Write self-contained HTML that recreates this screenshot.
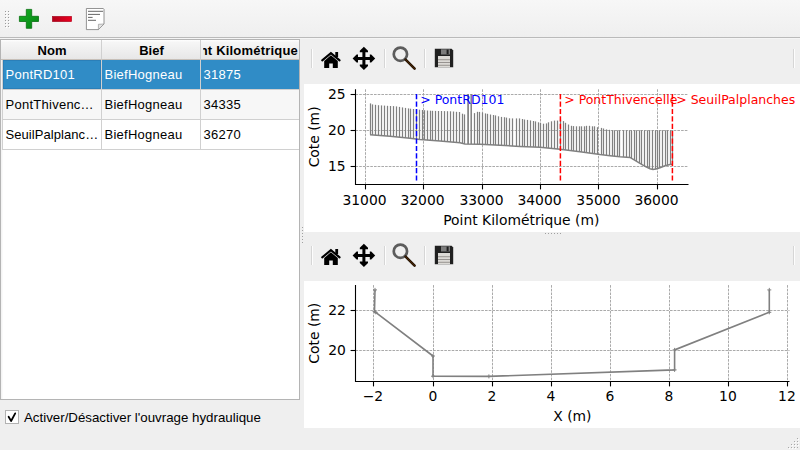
<!DOCTYPE html>
<html><head><meta charset="utf-8"><style>
*{margin:0;padding:0;box-sizing:border-box}
html,body{width:800px;height:450px;overflow:hidden;background:#efefef;font-family:"Liberation Sans",sans-serif;font-size:13px;color:#000}
.abs{position:absolute}
#tb{left:0;top:0;width:800px;height:37px;background:linear-gradient(#f7f7f7,#efefef)}
#tbline{left:0;top:37px;width:800px;height:1px;background:#bababa}
#tbline2{left:0;top:38px;width:800px;height:1px;background:#f5f5f5}
#table{left:0;top:39px;width:300px;height:361px;background:#fff;border:1px solid #b4b4b4}
.hdr{position:absolute;top:40px;height:20px;background:linear-gradient(#fefefe 0,#f6f6f6 12%,#e7e7e7 100%);border-bottom:1px solid #c6bfb8;border-right:1px solid #d0d0d0;font-weight:bold;line-height:20px;padding-top:1px;text-align:center;overflow:hidden;white-space:nowrap}
.cell{position:absolute;height:30px;border-right:1px solid #d0d0d0;border-bottom:1px solid #d0d0d0;line-height:29px;padding-left:2.5px;letter-spacing:0.25px;white-space:nowrap;overflow:hidden}
.alt{background:#f7f7f7}
.sel{background:#308cc6;color:#fff}
.canvas{position:absolute;background:#fff}
svg text{font-family:"DejaVu Sans",sans-serif}
</style></head><body>
<div class="abs" id="tb"></div>
<div class="abs" id="tbline"></div>
<div class="abs" id="tbline2"></div>
<svg class="abs" style="left:0;top:0" width="120" height="37" viewBox="0 0 120 37">
 <defs>
  <linearGradient id="gg" x1="0" y1="0" x2="1" y2="1"><stop offset="0" stop-color="#16b024"/><stop offset="1" stop-color="#058313"/></linearGradient>
  <linearGradient id="rg" x1="0" y1="0" x2="1" y2="0"><stop offset="0" stop-color="#b20019"/><stop offset="1" stop-color="#ec0020"/></linearGradient>
 </defs>
 <g fill="#9a9a9a"><rect x="5" y="11" width="1" height="1"/><rect x="5" y="14" width="1" height="1"/><rect x="5" y="17" width="1" height="1"/><rect x="5" y="20" width="1" height="1"/><rect x="5" y="23" width="1" height="1"/><rect x="5" y="26" width="1" height="1"/><rect x="8" y="11" width="1" height="1"/><rect x="8" y="14" width="1" height="1"/><rect x="8" y="17" width="1" height="1"/><rect x="8" y="20" width="1" height="1"/><rect x="8" y="23" width="1" height="1"/><rect x="8" y="26" width="1" height="1"/></g>
 <g fill="#ffffff"><rect x="6" y="12" width="1" height="1"/><rect x="6" y="15" width="1" height="1"/><rect x="6" y="18" width="1" height="1"/><rect x="6" y="21" width="1" height="1"/><rect x="6" y="24" width="1" height="1"/><rect x="6" y="27" width="1" height="1"/><rect x="9" y="12" width="1" height="1"/><rect x="9" y="15" width="1" height="1"/><rect x="9" y="18" width="1" height="1"/><rect x="9" y="21" width="1" height="1"/><rect x="9" y="24" width="1" height="1"/><rect x="9" y="27" width="1" height="1"/></g>
 <path d="M26.3,9.4 H31.7 V16.3 H38.5 V21.5 H31.7 V28.3 H26.3 V21.5 H19.4 V16.3 H26.3 Z" fill="url(#gg)" stroke="#06700f" stroke-width="0.8"/>
 <rect x="52.3" y="16.3" width="19.4" height="5.4" fill="url(#rg)" stroke="#9a0016" stroke-width="0.5"/>
 <path d="M86.4,8.5 H103.3 L104,9.3 V24 L98.4,29.6 H86.4 Z" fill="#fff" stroke="#7a7a7a" stroke-width="0.8"/>
 <path d="M104,24 L98.4,29.6 V24.3 Z" fill="#e4e4e4" stroke="#8a8a8a" stroke-width="0.6"/>
 <g stroke="#555" stroke-width="0.9">
  <line x1="88" y1="11.3" x2="103" y2="11.3"/><line x1="88" y1="14.4" x2="100" y2="14.4"/>
  <line x1="88" y1="17.4" x2="92.6" y2="17.4"/><line x1="88" y1="20.3" x2="96" y2="20.3"/>
 </g>
</svg>

<div class="abs" id="table"></div>
<div class="abs" style="left:1px;top:60px;width:1px;height:339px;background:#f4f4f4"></div>
<div class="abs" style="left:2px;top:60px;width:1px;height:90px;background:#d0d0d0"></div>
<div class="abs" style="left:2px;top:150px;width:1px;height:249px;background:#fafafa"></div>
<div class="hdr" style="left:1px;width:101px;padding-left:2px">Nom</div>
<div class="hdr" style="left:102px;width:99px;padding-left:1px">Bief</div>
<div class="hdr" style="left:201px;width:98px;border-right:none"><div style="position:absolute;left:2px;right:0;top:0;height:20px;overflow:hidden"><span style="position:absolute;right:1px;top:1px;letter-spacing:0.2px">Point Kilométrique</span></div></div>
<div class="cell sel" style="left:3px;top:60px;width:99px;padding-left:2.6px;box-shadow:inset 0 0 0 1px #2b7fb8">PontRD101</div>
<div class="cell sel" style="left:102px;top:60px;width:99px">BiefHogneau</div>
<div class="cell sel" style="left:201px;top:60px;width:98px;border-right:none">31875</div>
<div class="cell alt" style="left:3px;top:90px;width:99px;padding-left:2.6px">PontThivenc…</div>
<div class="cell alt" style="left:102px;top:90px;width:99px">BiefHogneau</div>
<div class="cell alt" style="left:201px;top:90px;width:98px;border-right:none">34335</div>
<div class="cell" style="left:3px;top:120px;width:99px;padding-left:2.4px;letter-spacing:0.08px">SeuilPalplanc…</div>
<div class="cell" style="left:102px;top:120px;width:99px">BiefHogneau</div>
<div class="cell" style="left:201px;top:120px;width:98px;border-right:none">36270</div>

<div class="abs" style="left:5px;top:410px;width:14px;height:14px;border:1px solid #b2b2b2;background:#fff"></div>
<svg class="abs" style="left:0;top:400px" width="24" height="30" viewBox="0 400 24 30">
 <path d="M8.6,416.8 L11.1,421 L15.2,413.4" fill="none" stroke="#000" stroke-width="1.8" stroke-linecap="round" stroke-linejoin="round"/>
</svg>
<div class="abs" style="left:24px;top:408.6px;font-size:13.3px;line-height:17px;white-space:nowrap">Activer/Désactiver l'ouvrage hydraulique</div>

<!-- splitter dots -->
<svg class="abs" style="left:0;top:0;pointer-events:none" width="800" height="450" viewBox="0 0 800 450">
 <g fill="#a0a0a0"><rect x="302" y="227" width="1" height="1"/><rect x="302" y="230" width="1" height="1"/><rect x="302" y="233" width="1" height="1"/><rect x="302" y="236" width="1" height="1"/><rect x="302" y="239" width="1" height="1"/><rect x="302" y="242" width="1" height="1"/></g>
 <g fill="#a0a0a0"><rect x="545" y="233" width="1" height="1"/><rect x="548" y="233" width="1" height="1"/><rect x="551" y="233" width="1" height="1"/><rect x="554" y="233" width="1" height="1"/><rect x="557" y="233" width="1" height="1"/><rect x="560" y="233" width="1" height="1"/></g>
 <g fill="#a8a8a8"><rect x="797" y="438" width="1" height="1"/><rect x="794" y="441" width="1" height="1"/><rect x="797" y="441" width="1" height="1"/><rect x="791" y="444" width="1" height="1"/><rect x="794" y="444" width="1" height="1"/><rect x="797" y="444" width="1" height="1"/><rect x="788" y="447" width="1" height="1"/><rect x="791" y="447" width="1" height="1"/><rect x="794" y="447" width="1" height="1"/><rect x="797" y="447" width="1" height="1"/></g>
 <g fill="#fff"><rect x="798" y="439" width="1" height="1"/><rect x="795" y="442" width="1" height="1"/><rect x="798" y="442" width="1" height="1"/><rect x="792" y="445" width="1" height="1"/><rect x="795" y="445" width="1" height="1"/><rect x="798" y="445" width="1" height="1"/><rect x="789" y="448" width="1" height="1"/><rect x="792" y="448" width="1" height="1"/><rect x="795" y="448" width="1" height="1"/></g>
 
<g transform="translate(0,0)">
 <rect x="311" y="49" width="1" height="19" fill="#d6d6d6"/><rect x="312" y="49" width="1" height="19" fill="#fdfdfd"/>
 <rect x="384" y="49" width="1" height="19" fill="#d6d6d6"/><rect x="385" y="49" width="1" height="19" fill="#fdfdfd"/>
 <rect x="424" y="49" width="1" height="19" fill="#d6d6d6"/><rect x="425" y="49" width="1" height="19" fill="#fdfdfd"/>
 <rect x="793" y="49" width="1" height="19" fill="#d6d6d6"/><rect x="794" y="49" width="1" height="19" fill="#fdfdfd"/>
 <!-- home -->
 <path d="M322.2,60.4 L330.9,53.1 L339.6,60.4" fill="none" stroke="#000" stroke-width="2.1" stroke-linecap="round" stroke-linejoin="miter"/>
 <rect x="335.3" y="52" width="2.8" height="5" fill="#000"/>
 <path d="M324.2,68 V61 L330.9,55.3 L337.8,61 V68 H332.8 V63.4 H329.2 V68 Z" fill="#000"/>
 <!-- move -->
 <g fill="#000">
  <rect x="362.4" y="50" width="3" height="17"/>
  <rect x="355" y="57" width="18" height="3"/>
  <path d="M363.9,46.8 L368,50.8 V52.2 H359.8 V50.8 Z"/>
  <path d="M363.9,70 L368,66 V64.6 H359.8 V66 Z"/>
  <path d="M352.6,58.5 L356.6,54.4 H358 V62.6 H356.6 Z"/>
  <path d="M375.2,58.5 L371.2,54.4 H369.8 V62.6 H371.2 Z"/>
 </g>
 <!-- zoom -->
 <circle cx="400.4" cy="54.2" r="6.65" fill="none" stroke="#5c5c5c" stroke-width="2.7"/>
 <path d="M405.6,59.7 L414.6,68.7" stroke="#1a0d00" stroke-width="2.6" stroke-linecap="round"/>
 <path d="M405.6,59.7 L414.6,68.7" stroke="#4a2605" stroke-width="1.2" stroke-linecap="round"/>
 <!-- save -->
 <path d="M434.8,48.8 H451.6 L453.2,50.4 V67.2 H434.8 Z" fill="#202020"/>
 <rect x="441" y="49.3" width="9" height="5.2" fill="#7c7c7c"/>
 <rect x="446.6" y="49.6" width="2" height="4.6" fill="#1e1e1e"/>
 <rect x="438" y="56" width="12" height="11.2" fill="#dcdad6"/>
 <rect x="438" y="59.3" width="12" height="0.9" fill="#8f8c88"/>
 <rect x="438" y="62.1" width="12" height="0.9" fill="#8f8c88"/>
 <rect x="438" y="64.8" width="12" height="0.9" fill="#8f8c88"/>
</g>
 
<g transform="translate(0,197)">
 <rect x="311" y="49" width="1" height="19" fill="#d6d6d6"/><rect x="312" y="49" width="1" height="19" fill="#fdfdfd"/>
 <rect x="384" y="49" width="1" height="19" fill="#d6d6d6"/><rect x="385" y="49" width="1" height="19" fill="#fdfdfd"/>
 <rect x="424" y="49" width="1" height="19" fill="#d6d6d6"/><rect x="425" y="49" width="1" height="19" fill="#fdfdfd"/>
 <rect x="793" y="49" width="1" height="19" fill="#d6d6d6"/><rect x="794" y="49" width="1" height="19" fill="#fdfdfd"/>
 <!-- home -->
 <path d="M322.2,60.4 L330.9,53.1 L339.6,60.4" fill="none" stroke="#000" stroke-width="2.1" stroke-linecap="round" stroke-linejoin="miter"/>
 <rect x="335.3" y="52" width="2.8" height="5" fill="#000"/>
 <path d="M324.2,68 V61 L330.9,55.3 L337.8,61 V68 H332.8 V63.4 H329.2 V68 Z" fill="#000"/>
 <!-- move -->
 <g fill="#000">
  <rect x="362.4" y="50" width="3" height="17"/>
  <rect x="355" y="57" width="18" height="3"/>
  <path d="M363.9,46.8 L368,50.8 V52.2 H359.8 V50.8 Z"/>
  <path d="M363.9,70 L368,66 V64.6 H359.8 V66 Z"/>
  <path d="M352.6,58.5 L356.6,54.4 H358 V62.6 H356.6 Z"/>
  <path d="M375.2,58.5 L371.2,54.4 H369.8 V62.6 H371.2 Z"/>
 </g>
 <!-- zoom -->
 <circle cx="400.4" cy="54.2" r="6.65" fill="none" stroke="#5c5c5c" stroke-width="2.7"/>
 <path d="M405.6,59.7 L414.6,68.7" stroke="#1a0d00" stroke-width="2.6" stroke-linecap="round"/>
 <path d="M405.6,59.7 L414.6,68.7" stroke="#4a2605" stroke-width="1.2" stroke-linecap="round"/>
 <!-- save -->
 <path d="M434.8,48.8 H451.6 L453.2,50.4 V67.2 H434.8 Z" fill="#202020"/>
 <rect x="441" y="49.3" width="9" height="5.2" fill="#7c7c7c"/>
 <rect x="446.6" y="49.6" width="2" height="4.6" fill="#1e1e1e"/>
 <rect x="438" y="56" width="12" height="11.2" fill="#dcdad6"/>
 <rect x="438" y="59.3" width="12" height="0.9" fill="#8f8c88"/>
 <rect x="438" y="62.1" width="12" height="0.9" fill="#8f8c88"/>
 <rect x="438" y="64.8" width="12" height="0.9" fill="#8f8c88"/>
</g>
</svg>

<!-- top canvas -->
<svg class="canvas" style="left:304px;top:84px" width="496" height="148" viewBox="304 84 496 148">
 <rect x="304" y="84" width="496" height="148" fill="#fff"/>
 <g stroke="#a0a0a0" stroke-width="0.9" stroke-dasharray="2.6 1.1"><line x1="365.5" y1="89.3" x2="365.5" y2="184.5"/><line x1="423.5" y1="89.3" x2="423.5" y2="184.5"/><line x1="482.5" y1="89.3" x2="482.5" y2="184.5"/><line x1="540.5" y1="89.3" x2="540.5" y2="184.5"/><line x1="598.5" y1="89.3" x2="598.5" y2="184.5"/><line x1="657.5" y1="89.3" x2="657.5" y2="184.5"/><line x1="355.5" y1="166.5" x2="688.5" y2="166.5"/><line x1="355.5" y1="130.5" x2="688.5" y2="130.5"/><line x1="355.5" y1="94.5" x2="688.5" y2="94.5"/></g>
 <g stroke="#808080" stroke-width="1.25"><line x1="370.5" y1="103.4" x2="370.5" y2="134.7"/><line x1="372.5" y1="104.4" x2="372.5" y2="134.9"/><line x1="375.5" y1="104.8" x2="375.5" y2="135.1"/><line x1="378.5" y1="105.2" x2="378.5" y2="135.4"/><line x1="381.5" y1="105.4" x2="381.5" y2="135.6"/><line x1="384.5" y1="105.6" x2="384.5" y2="135.9"/><line x1="387.5" y1="105.8" x2="387.5" y2="136.1"/><line x1="390.5" y1="106.0" x2="390.5" y2="136.3"/><line x1="393.5" y1="106.1" x2="393.5" y2="136.6"/><line x1="396.5" y1="106.4" x2="396.5" y2="136.9"/><line x1="399.5" y1="106.9" x2="399.5" y2="137.2"/><line x1="402.5" y1="107.4" x2="402.5" y2="137.5"/><line x1="405.5" y1="107.9" x2="405.5" y2="137.8"/><line x1="408.5" y1="108.4" x2="408.5" y2="138.1"/><line x1="410.5" y1="108.7" x2="410.5" y2="138.3"/><line x1="413.5" y1="109.0" x2="413.5" y2="138.7"/><line x1="416.5" y1="109.4" x2="416.5" y2="139.0"/><line x1="419.5" y1="109.7" x2="419.5" y2="139.4"/><line x1="422.5" y1="110.0" x2="422.5" y2="139.7"/><line x1="424.5" y1="110.2" x2="424.5" y2="139.8"/><line x1="427.5" y1="110.5" x2="427.5" y2="140.1"/><line x1="430.5" y1="110.7" x2="430.5" y2="140.3"/><line x1="432.5" y1="110.8" x2="432.5" y2="140.4"/><line x1="435.5" y1="110.9" x2="435.5" y2="140.7"/><line x1="438.5" y1="111.0" x2="438.5" y2="140.9"/><line x1="441.5" y1="111.0" x2="441.5" y2="141.1"/><line x1="444.5" y1="111.1" x2="444.5" y2="141.4"/><line x1="447.5" y1="111.2" x2="447.5" y2="141.6"/><line x1="450.5" y1="111.3" x2="450.5" y2="141.9"/><line x1="453.5" y1="111.5" x2="453.5" y2="142.1"/><line x1="456.5" y1="111.8" x2="456.5" y2="142.4"/><line x1="459.5" y1="112.0" x2="459.5" y2="142.7"/><line x1="462.5" y1="113.7" x2="462.5" y2="143.3"/><line x1="464.5" y1="114.4" x2="464.5" y2="143.9"/><line x1="474.5" y1="113.1" x2="474.5" y2="144.1"/><line x1="477.5" y1="111.8" x2="477.5" y2="144.2"/><line x1="479.5" y1="111.9" x2="479.5" y2="144.2"/><line x1="482.5" y1="112.5" x2="482.5" y2="144.3"/><line x1="485.5" y1="113.4" x2="485.5" y2="144.5"/><line x1="487.5" y1="113.8" x2="487.5" y2="144.6"/><line x1="490.5" y1="114.5" x2="490.5" y2="144.8"/><line x1="493.5" y1="115.0" x2="493.5" y2="144.9"/><line x1="495.5" y1="115.4" x2="495.5" y2="145.1"/><line x1="498.5" y1="116.3" x2="498.5" y2="145.2"/><line x1="501.5" y1="116.9" x2="501.5" y2="145.4"/><line x1="504.5" y1="117.2" x2="504.5" y2="145.5"/><line x1="506.5" y1="117.6" x2="506.5" y2="145.7"/><line x1="509.5" y1="118.3" x2="509.5" y2="145.8"/><line x1="512.5" y1="118.4" x2="512.5" y2="146.0"/><line x1="516.5" y1="118.4" x2="516.5" y2="146.2"/><line x1="519.5" y1="118.4" x2="519.5" y2="146.4"/><line x1="522.5" y1="119.0" x2="522.5" y2="146.5"/><line x1="524.5" y1="119.5" x2="524.5" y2="146.6"/><line x1="527.5" y1="119.9" x2="527.5" y2="146.7"/><line x1="530.5" y1="120.4" x2="530.5" y2="146.8"/><line x1="533.5" y1="121.0" x2="533.5" y2="146.9"/><line x1="535.5" y1="121.4" x2="535.5" y2="147.0"/><line x1="538.5" y1="122.3" x2="538.5" y2="147.1"/><line x1="540.5" y1="122.9" x2="540.5" y2="147.3"/><line x1="543.5" y1="123.7" x2="543.5" y2="147.6"/><line x1="546.5" y1="123.4" x2="546.5" y2="147.9"/><line x1="548.5" y1="122.3" x2="548.5" y2="148.1"/><line x1="551.5" y1="121.3" x2="551.5" y2="148.4"/><line x1="554.5" y1="120.6" x2="554.5" y2="148.7"/><line x1="557.5" y1="120.6" x2="557.5" y2="149.0"/><line x1="560.5" y1="119.7" x2="560.5" y2="149.4"/><line x1="563.5" y1="121.1" x2="563.5" y2="149.7"/><line x1="565.5" y1="122.8" x2="565.5" y2="150.0"/><line x1="568.5" y1="124.5" x2="568.5" y2="150.3"/><line x1="571.5" y1="125.8" x2="571.5" y2="150.7"/><line x1="573.5" y1="126.1" x2="573.5" y2="150.9"/><line x1="576.5" y1="126.3" x2="576.5" y2="151.3"/><line x1="579.5" y1="126.3" x2="579.5" y2="151.6"/><line x1="581.5" y1="126.3" x2="581.5" y2="151.9"/><line x1="584.5" y1="126.3" x2="584.5" y2="152.4"/><line x1="586.5" y1="125.8" x2="586.5" y2="152.6"/><line x1="589.5" y1="125.8" x2="589.5" y2="153.1"/><line x1="592.5" y1="126.3" x2="592.5" y2="153.5"/><line x1="594.5" y1="126.3" x2="594.5" y2="153.8"/><line x1="597.5" y1="127.2" x2="597.5" y2="154.2"/><line x1="601.5" y1="127.9" x2="601.5" y2="154.8"/><line x1="603.5" y1="128.5" x2="603.5" y2="155.0"/><line x1="606.5" y1="129.4" x2="606.5" y2="155.3"/><line x1="609.5" y1="129.8" x2="609.5" y2="155.6"/><line x1="612.5" y1="130.3" x2="612.5" y2="155.9"/><line x1="614.5" y1="130.3" x2="614.5" y2="156.1"/><line x1="617.5" y1="130.3" x2="617.5" y2="156.4"/><line x1="619.5" y1="130.3" x2="619.5" y2="156.6"/><line x1="623.5" y1="130.3" x2="623.5" y2="156.9"/><line x1="626.5" y1="130.3" x2="626.5" y2="157.2"/><line x1="629.5" y1="130.3" x2="629.5" y2="157.4"/><line x1="631.5" y1="130.3" x2="631.5" y2="158.3"/><line x1="634.5" y1="130.3" x2="634.5" y2="160.0"/><line x1="636.5" y1="130.3" x2="636.5" y2="161.2"/><line x1="639.5" y1="130.3" x2="639.5" y2="163.0"/><line x1="641.5" y1="130.3" x2="641.5" y2="164.2"/><line x1="644.5" y1="130.3" x2="644.5" y2="166.0"/><line x1="647.5" y1="130.3" x2="647.5" y2="167.5"/><line x1="649.5" y1="130.3" x2="649.5" y2="168.5"/><line x1="652.5" y1="130.3" x2="652.5" y2="169.3"/><line x1="655.5" y1="130.3" x2="655.5" y2="169.1"/><line x1="657.5" y1="130.3" x2="657.5" y2="168.5"/><line x1="659.5" y1="130.3" x2="659.5" y2="167.9"/><line x1="662.5" y1="130.3" x2="662.5" y2="166.7"/><line x1="665.5" y1="130.3" x2="665.5" y2="165.6"/><line x1="667.5" y1="130.3" x2="667.5" y2="165.1"/><line x1="670.5" y1="130.3" x2="670.5" y2="164.6"/><line x1="672.5" y1="130.3" x2="672.5" y2="164.4"/><line x1="468.1" y1="93.9" x2="468.1" y2="144.0" stroke-width="1.7"/><line x1="471.2" y1="93.9" x2="471.2" y2="144.1" stroke-width="1.5"/></g>
 <path d="M370.0,134.7 L390.0,136.3 L410.0,138.2 L420.0,139.5 L440.0,141.0 L460.0,142.7 L465.0,144.0 L480.0,144.2 L500.0,145.3 L520.0,146.4 L540.0,147.2 L560.0,149.3 L580.0,151.7 L600.0,154.6 L610.0,155.7 L620.0,156.7 L630.0,157.4 L635.0,160.3 L640.0,163.3 L645.0,166.3 L650.0,168.7 L653.0,169.4 L656.0,169.0 L660.0,167.7 L665.0,165.7 L670.0,164.6 L673.0,164.3" fill="none" stroke="#808080" stroke-width="1.5"/>
 <g stroke-width="1.5" stroke-dasharray="5.2 2.2">
  <line x1="416.5" y1="94.1" x2="416.5" y2="180.6" stroke="#0000ff"/>
  <line x1="560.4" y1="94.1" x2="560.4" y2="180.6" stroke="#ff0000"/>
  <line x1="672.4" y1="94.1" x2="672.4" y2="180.6" stroke="#ff0000"/>
 </g>
 <g font-size="12.5px">
  <text x="420.2" y="104" fill="#0000ff">&gt; PontRD101</text>
  <text x="564.2" y="104" fill="#ff0000">&gt; PontThivencelle</text>
  <text x="676.2" y="104" fill="#ff0000">&gt; SeuilPalplanches</text>
 </g>
 <g stroke="#000" stroke-width="1.1"><line x1="365.5" y1="184.5" x2="365.5" y2="189.4"/><line x1="423.5" y1="184.5" x2="423.5" y2="189.4"/><line x1="482.5" y1="184.5" x2="482.5" y2="189.4"/><line x1="540.5" y1="184.5" x2="540.5" y2="189.4"/><line x1="598.5" y1="184.5" x2="598.5" y2="189.4"/><line x1="657.5" y1="184.5" x2="657.5" y2="189.4"/><line x1="350.6" y1="166.5" x2="355.5" y2="166.5"/><line x1="350.6" y1="130.5" x2="355.5" y2="130.5"/><line x1="350.6" y1="94.5" x2="355.5" y2="94.5"/></g>
 <path d="M355.5,89.3 V184.5 H688.5" fill="none" stroke="#000" stroke-width="1.1"/>
 <g font-size="13.89px" fill="#000"><text x="364.5" y="205.4" text-anchor="middle">31000</text><text x="422.5" y="205.4" text-anchor="middle">32000</text><text x="481.5" y="205.4" text-anchor="middle">33000</text><text x="539.5" y="205.4" text-anchor="middle">34000</text><text x="598.4" y="205.4" text-anchor="middle">35000</text><text x="656.5" y="205.4" text-anchor="middle">36000</text><text x="345.6" y="170.6" text-anchor="end">15</text><text x="345.6" y="134.6" text-anchor="end">20</text><text x="345.6" y="98.6" text-anchor="end">25</text>
  <text x="521.3" y="225.3" text-anchor="middle">Point Kilométrique (m)</text>
  <text transform="translate(318.8,136.9) rotate(-90)" text-anchor="middle">Cote (m)</text>
 </g>
</svg>

<!-- bottom canvas -->
<svg class="canvas" style="left:304px;top:281px" width="496" height="147" viewBox="304 281 496 147">
 <rect x="304" y="281" width="496" height="147" fill="#fff"/>
 <g stroke="#a0a0a0" stroke-width="0.9" stroke-dasharray="2.6 1.1"><line x1="373.5" y1="285.1" x2="373.5" y2="381.5"/><line x1="433.5" y1="285.1" x2="433.5" y2="381.5"/><line x1="492.5" y1="285.1" x2="492.5" y2="381.5"/><line x1="551.5" y1="285.1" x2="551.5" y2="381.5"/><line x1="610.5" y1="285.1" x2="610.5" y2="381.5"/><line x1="669.5" y1="285.1" x2="669.5" y2="381.5"/><line x1="728.5" y1="285.1" x2="728.5" y2="381.5"/><line x1="787.5" y1="285.1" x2="787.5" y2="381.5"/><line x1="355.5" y1="350.5" x2="789.5" y2="350.5"/><line x1="355.5" y1="310.5" x2="789.5" y2="310.5"/></g>
 <path d="M375.0,289.9 L374.5,311.3 L375.7,312.3 L433.0,356.0 L433.0,376.2 L488.9,376.4 L674.6,369.9 L674.6,349.9 L769.3,312.3 L769.3,289.9" fill="none" stroke="#808080" stroke-width="1.6"/>
 <g stroke="#808080" stroke-width="1"><path d="M373.0,289.9h4M375.0,287.9v4"/><path d="M372.5,311.3h4M374.5,309.3v4"/><path d="M373.7,312.3h4M375.7,310.3v4"/><path d="M431.0,356.0h4M433.0,354.0v4"/><path d="M431.0,376.2h4M433.0,374.2v4"/><path d="M486.9,376.4h4M488.9,374.4v4"/><path d="M672.6,369.9h4M674.6,367.9v4"/><path d="M672.6,349.9h4M674.6,347.9v4"/><path d="M767.3,312.3h4M769.3,310.3v4"/><path d="M767.3,289.9h4M769.3,287.9v4"/></g>
 <g stroke="#000" stroke-width="1.1"><line x1="373.5" y1="381.5" x2="373.5" y2="386.4"/><line x1="433.5" y1="381.5" x2="433.5" y2="386.4"/><line x1="492.5" y1="381.5" x2="492.5" y2="386.4"/><line x1="551.5" y1="381.5" x2="551.5" y2="386.4"/><line x1="610.5" y1="381.5" x2="610.5" y2="386.4"/><line x1="669.5" y1="381.5" x2="669.5" y2="386.4"/><line x1="728.5" y1="381.5" x2="728.5" y2="386.4"/><line x1="787.5" y1="381.5" x2="787.5" y2="386.4"/><line x1="350.6" y1="350.5" x2="355.5" y2="350.5"/><line x1="350.6" y1="310.5" x2="355.5" y2="310.5"/></g>
 <path d="M355.5,285.1 V381.5 H789.5" fill="none" stroke="#000" stroke-width="1.1"/>
 <g font-size="13.89px" fill="#000"><text x="372.9" y="401.4" text-anchor="middle">−2</text><text x="432.9" y="401.4" text-anchor="middle">0</text><text x="491.9" y="401.4" text-anchor="middle">2</text><text x="550.9" y="401.4" text-anchor="middle">4</text><text x="609.9" y="401.4" text-anchor="middle">6</text><text x="668.9" y="401.4" text-anchor="middle">8</text><text x="727.9" y="401.4" text-anchor="middle">10</text><text x="786.9" y="401.4" text-anchor="middle">12</text><text x="345.8" y="354.6" text-anchor="end">20</text><text x="345.8" y="314.6" text-anchor="end">22</text>
  <text x="572.4" y="421" text-anchor="middle">X (m)</text>
  <text transform="translate(318.8,333.2) rotate(-90)" text-anchor="middle">Cote (m)</text>
 </g>
</svg>
</body></html>
